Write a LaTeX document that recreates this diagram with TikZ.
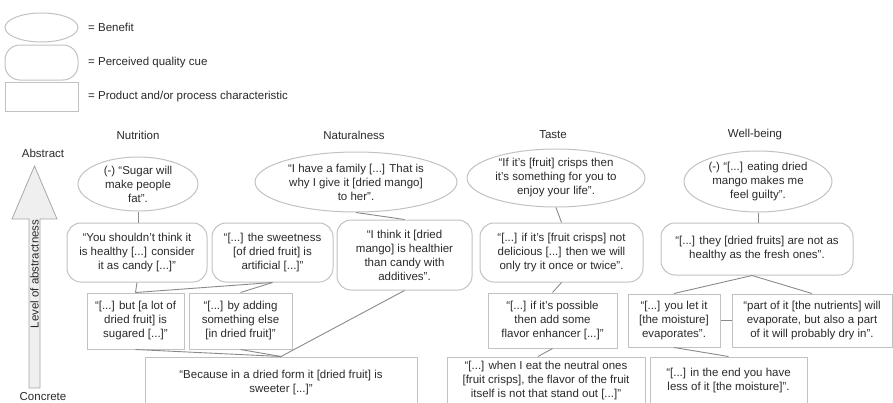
\documentclass[tikz,border=0pt]{standalone}
\usepackage{fontspec}
\setmainfont{Liberation Sans}
\usetikzlibrary{shapes.geometric}
\definecolor{edgegray}{HTML}{C2C2C2}
\definecolor{linkgray}{HTML}{8A8A8A}
\definecolor{inkgray}{HTML}{2A2A2A}
\definecolor{arrowfill}{HTML}{EFEFEF}
\definecolor{arrowedge}{HTML}{A8A8A8}
\tikzset{
  txt/.style={font=\fontsize{11.5}{14}\selectfont, text=inkgray, align=center, inner sep=2pt},
  benefit/.style={txt, ellipse, draw=edgegray, line width=1pt},
  cue/.style={txt, rectangle, rounded corners=14pt, draw=edgegray, line width=1pt},
  charbox/.style={txt, rectangle, draw=edgegray, line width=1pt},
  link/.style={draw=linkgray, line width=0.9pt},
  header/.style={txt},
}
\begin{document}
\begin{tikzpicture}[x=1pt,y=-1pt]
\useasboundingbox (0,0) rectangle (893,402);
\fill[white] (0,0) rectangle (893,402);
\clip (0,0) rectangle (893,402);

% legend
\node[benefit, minimum width=73, minimum height=29] (lgb) at (41.5,27.5) {};
\node[cue, minimum width=73, minimum height=35, rounded corners=15pt] (lgc) at (41.5,62.5) {};
\node[charbox, minimum width=73, minimum height=29] (lgp) at (41.5,96.5) {};
\node[txt, anchor=west] (lgbt) at (86,27.5) {= Benefit};
\node[txt, anchor=west] (lgct) at (86,62.5) {= Perceived quality cue};
\node[txt, anchor=west] (lgpt) at (86,97) {= Product and/or process characteristic};

% abstraction axis
\filldraw[fill=arrowfill, draw=arrowedge, line width=0.8pt]
  (34.5,166) -- (57,219) -- (40,219) -- (40,388) -- (29,388) -- (29,219) -- (12,219) -- cycle;
\node[txt] (abs) at (43,153) {Abstract};
\node[txt] (con) at (43,397) {Concrete};
\node[txt, rotate=90] (lvl) at (34.5,274) {Level of abstractness};

% column headers
\node[header] (hnut) at (138,135) {Nutrition};
\node[header] (hnat) at (354,135) {Naturalness};
\node[header] (htas) at (553,135) {Taste};
\node[header] (hwel) at (755,135) {Well-being};

% benefits
\node[benefit, minimum width=120, minimum height=54, inner sep=0pt] (n1) at (138,184)
  {(-) “Sugar will\\make people\\fat”.};
\node[benefit, minimum width=202, minimum height=60, inner sep=0pt] (n2) at (356,182)
  {“I have a family [...] That is\\why I give it [dried mango]\\to her”.};
\node[benefit, minimum width=178, minimum height=58, inner sep=0pt] (n3) at (556,178)
  {“If it's [fruit] crisps then\\it's something for you to\\enjoy your life”.};
\node[benefit, minimum width=148, minimum height=61, inner sep=0pt] (n4) at (758,181.5)
  {(-) “[...] eating dried\\mango makes me\\feel guilty”.};

% perceived quality cues
\node[cue, minimum width=140, minimum height=59] (c1) at (137,252.5)
  {“You shouldn't think it\\is healthy [...] consider\\it as candy [...]"};
\node[cue, minimum width=121, minimum height=59] (c2) at (272.5,252.5)
  {“[...] the sweetness\\{}[of dried fruit] is\\artificial [...]"};
\node[cue, minimum width=135, minimum height=70] (c3) at (404.5,255)
  {“I think it [dried\\mango] is healthier\\than candy with\\additives”.};
\node[cue, minimum width=163, minimum height=59] (c4) at (561.5,252.5)
  {“[...] if it's [fruit crisps] not\\delicious [...] then we will\\only try it once or twice”.};
\node[cue, minimum width=192, minimum height=52] (c5) at (757,249)
  {“[...] they [dried fruits] are not as\\healthy as the fresh ones”.};

% product and process characteristics
\node[charbox, minimum width=97, minimum height=56] (p1) at (135.5,321)
  {“[...] but [a lot of\\dried fruit] is\\sugared [...]"};
\node[charbox, minimum width=103, minimum height=56] (p2) at (240.5,321)
  {“[...] by adding\\something else\\{}[in dried fruit]"};
\node[charbox, minimum width=129, minimum height=55] (p3) at (552.5,320.5)
  {“[...] if it's possible\\then add some\\flavor enhancer [...]"};
\node[charbox, minimum width=92, minimum height=53] (p4) at (674,320.5)
  {“[...] you let it\\{}[the moisture]\\evaporates”.};
\node[charbox, minimum width=160, minimum height=53] (p5) at (812,320.5)
  {“part of it [the nutrients] will\\evaporate, but also a part\\of it will probably dry in”.};

\node[charbox, minimum width=272, minimum height=52] (q1) at (281,383)
  {“Because in a dried form it [dried fruit] is\\sweeter [...]"};
\node[charbox, minimum width=198, minimum height=48] (q2) at (546,381)
  {“[...] when I eat the neutral ones\\{}[fruit crisps], the flavor of the fruit\\itself is not that stand out [...]"};
\node[charbox, minimum width=157, minimum height=48] (q3) at (728.5,381)
  {“[...] in the end you have\\less of it [the moisture]”.};

% links
\draw[link] (n1.south) -- (n1.south |- c1.north);
\draw[link] (n2.south) -- (c3.north);
\draw[link] (n3.south) -- (c4.north);
\draw[link] (n4.south) -- (n4.south |- c5.north);

\draw[link] (c1.south) -- (p1.north);
\draw[link] (c2.south) -- (p1.north);
\draw[link] (c2.south) -- (p2.north);

\draw[link] (p1.south) -- (q1.north);
\draw[link] (p2.south) -- (q1.north);
\draw[link] (c3.south) -- (q1.north);

\draw[link] (c4.south) -- (p3.north);
\draw[link] (p3.south) -- ([xshift=-8pt]q2.north);

\coordinate (wj) at ([xshift=-5pt]c5.south);
\draw[link] (wj) -- (p4.north);
\draw[link] (wj) -- (p5.north);
\draw[link] (p4.east) -- (p5.west);
\draw[link] (p4.south) -- (q3.north);
\end{tikzpicture}
\end{document}
